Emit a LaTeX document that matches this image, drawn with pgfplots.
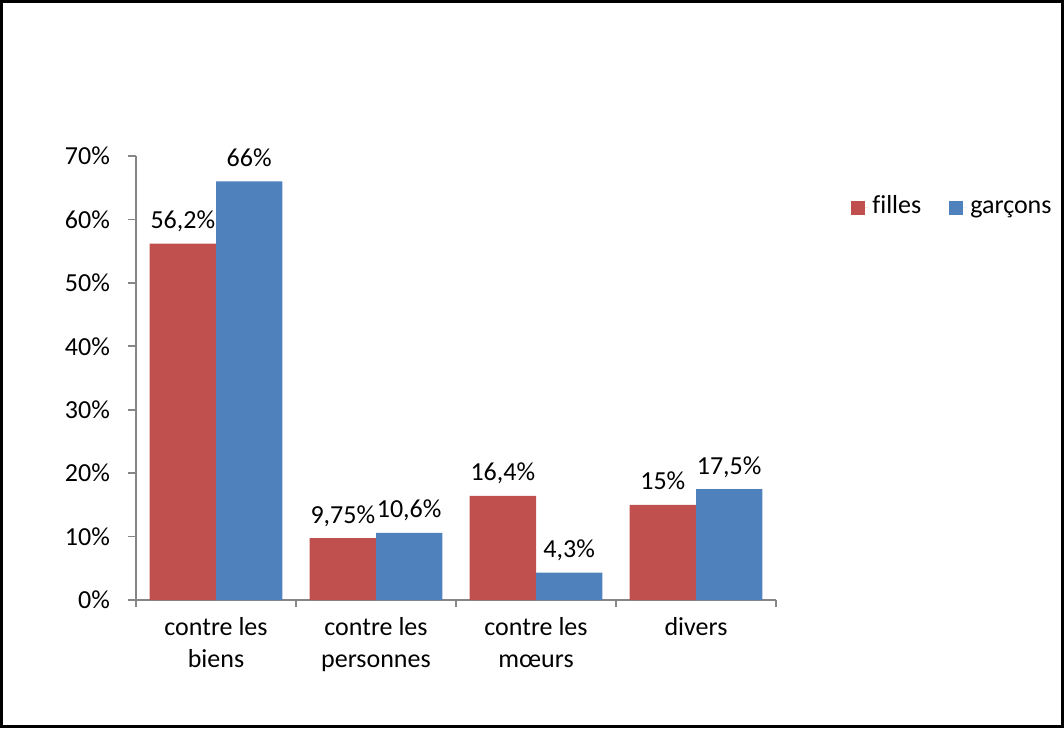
\documentclass[border=0pt]{standalone}
\usepackage{pgfplots}
\pgfplotsset{compat=1.18}
\usepackage{fontspec}
\setmainfont[Ligatures=NoCommon]{Carlito}
\definecolor{fil}{HTML}{C0504D}
\definecolor{gar}{HTML}{4F81BD}
\definecolor{axg}{HTML}{868686}
\begin{document}
\fontsize{13}{16}\selectfont
\begin{tikzpicture}[x=1pt,y=1pt]
\useasboundingbox (-68,-64) rectangle (464,300);
\draw[line width=1.2pt] (-67.3,-63.3) rectangle (463.3,299.3);
\begin{axis}[
  at={(0,0)}, anchor=south west,
  width=320pt, height=222pt, scale only axis,
  clip=false,
  xmin=-0.5, xmax=3.5, ymin=0, ymax=70,
  axis x line*=bottom, axis y line*=left,
  tick align=outside,
  ybar=0pt, bar width=33.15pt,
  xtick={0,1,2,3},
  xticklabels={{contre les\\biens},{contre les\\personnes},{contre les\\m\oe urs},{divers}},
  xticklabel style={align=center, anchor=north},
  major x tick style={draw=none},
  minor xtick={-0.5,0.5,1.5,2.5,3.5},
  minor tick length=3.5pt,
  major tick length=4pt,
  ytick={0,10,20,30,40,50,60,70},
  yticklabels={0\%,10\%,20\%,30\%,40\%,50\%,60\%,70\%},
  yticklabel style={xshift=-4.5pt},
  axis line style={axg, line width=0.8pt},
  every tick/.style={axg, line width=0.8pt},
  nodes near coords,
  point meta=explicit symbolic,
  every node near coord/.append style={anchor=base, yshift=7.5pt, text=black},
  legend style={at={(1.1078,0.8829)}, anchor=west, draw=none, fill=none,
    legend columns=2, nodes={text height=0.7em, text depth=0.25em},
    /tikz/every even column/.append style={column sep=12pt}},
  legend image code/.code={\fill[#1] (0pt,-3.5pt) rectangle (7pt,3.5pt); \path (0pt,0pt) -- (8.5pt,0pt);},
]
\addplot[fill=fil, draw=none] coordinates {(0,56.2) [56,2\%] (1,9.75) [9,75\%] (2,16.4) [16,4\%] (3,15) [15\%]};
\addplot[fill=gar, draw=none] coordinates {(0,66) [66\%] (1,10.6) [10,6\%] (2,4.3) [4,3\%] (3,17.5) [17,5\%]};
\legend{filles, garçons}
\end{axis}
\end{tikzpicture}
\end{document}
